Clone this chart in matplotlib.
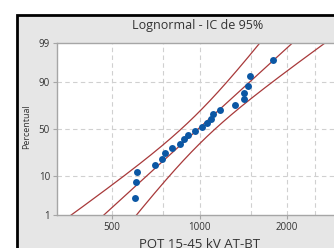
import numpy as np
import matplotlib.pyplot as plt
from matplotlib.patches import Rectangle
from statistics import NormalDist

# POT values (sorted)
pot_values = [600, 605, 611, 703, 743, 761, 804, 857, 885, 913, 965,
              1020, 1061, 1095, 1116, 1176, 1325, 1423, 1426, 1472, 1492, 1794]
percent_ticks = [1, 10, 50, 90, 99]
percent_grid = [10, 50, 90]
x_ticks = [500, 1000, 2000]
x_grid = [500, 750, 1000, 1500, 2000, 2500]

nd = NormalDist()


def zscore(p):
    return nd.inv_cdf(p / 100.0)


# median rank plotting positions
n = len(pot_values)
ranks = np.arange(1, n + 1)
pct = (ranks - 0.3) / (n + 0.4) * 100
zs = [zscore(p) for p in pct]

# lognormal fit and 95% confidence band
logs = np.log(pot_values)
mu = logs.mean()
sigma = logs.std(ddof=1)
zz = np.linspace(-2.7, 2.7, 300)
half = 1.96 * sigma * np.sqrt(1 / n + zz ** 2 / (2 * n))
fit = np.exp(mu + sigma * zz)
lower = np.exp(mu + sigma * zz - half)
upper = np.exp(mu + sigma * zz + half)

plt.rcParams['font.family'] = ['Open Sans', 'DejaVu Sans']
W, H = 334, 248
fig = plt.figure(figsize=(W / 100, H / 100), dpi=100, facecolor='white')

# outer graph frame (cropped on the right and bottom)
fig.patches.append(Rectangle((17 / W, -0.2), 1.3, 1 - 15 / H + 0.2,
                             transform=fig.transFigure, facecolor='#e6e6e6',
                             edgecolor='black', lw=2, zorder=-5))

ax = fig.add_axes([57 / W, 1 - 215 / H, (339 - 57) / W, (215 - 43) / H])
ax.set_facecolor('white')
ax.set_xscale('log')

line_col = '#a8393a'
ax.plot(fit, zz, color=line_col, lw=0.9)
ax.plot(lower, zz, color=line_col, lw=0.9)
ax.plot(upper, zz, color=line_col, lw=0.9)
ax.plot(pot_values, zs, 'o', color='#0b57a4', markersize=5, markeredgewidth=0, zorder=3)

ax.set_xlim(323, 3020)
ax.set_ylim(zscore(1), zscore(99))

ax.set_xticks(x_ticks)
ax.set_xticklabels([str(v) for v in x_ticks])
ax.set_xticks([], minor=True)
ax.set_yticks([zscore(p) for p in percent_ticks])
ax.set_yticklabels([str(p) for p in percent_ticks])

for v in x_grid:
    ax.axvline(v, color='#d0d0d0', lw=0.8, ls=(0, (4, 3)), zorder=0)
for p in percent_grid:
    ax.axhline(zscore(p), color='#d0d0d0', lw=0.8, ls=(0, (4, 3)), zorder=0)

for s in ax.spines.values():
    s.set_color('#a6a6a6')
    s.set_linewidth(1.0)
ax.tick_params(labelsize=7, colors='#a6a6a6', labelcolor='#333333', length=3, width=0.8, pad=2)

fig.text(198 / W, 1 - 25 / H, 'Lognormal - IC de 95%', ha='center', va='center',
         fontsize=9, color='#333333')
fig.text(27 / W, 1 - 127 / H, 'Percentual', ha='center', va='center', rotation=90,
         fontsize=6.5, color='#333333')
fig.text(200 / W, 1 - 238 / H, 'POT 15-45 kV AT-BT', ha='center', va='top',
         fontsize=9.5, color='#333333')

fig.savefig('out.png', dpi=100)
